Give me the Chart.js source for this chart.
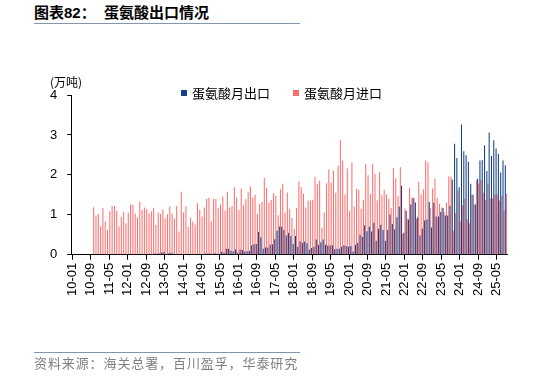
<!DOCTYPE html>
<html>
<head>
<meta charset="utf-8">
<script src="https://cdn.jsdelivr.net/npm/chart.js@4.4.1/dist/chart.umd.min.js"></script>
<style>
  body{margin:0;width:534px;height:377px;background:#fff;position:relative;overflow:hidden;font-family:"Noto Sans CJK SC",sans-serif;}
  #titulo{position:absolute;left:34px;top:3px;width:266px;height:20px;border-bottom:1px solid #8595ad;font-size:15px;font-weight:bold;line-height:20px;color:#000;font-family:"Liberation Sans","Noto Sans CJK SC",sans-serif;white-space:pre;}
  #fuente{position:absolute;left:34px;top:352px;width:266px;border-top:1px solid #8595ad;font-size:13px;line-height:19px;color:#808080;letter-spacing:0.9px;white-space:pre;}
  #caja{position:absolute;left:0;top:0;width:534px;height:377px;}
</style>
</head>
<body>
<div id="titulo">图表82：  蛋氨酸出口情况</div>
<div id="caja"><canvas id="grafica" width="534" height="377"></canvas></div>
<div id="fuente">资料来源：海关总署，百川盈孚，华泰研究</div>
<script>
// DATOS (万吨), mensual 2010-01 .. 2025-09
var anioInicio = 2010;
var totalMeses = 189;
var tickLabels = ['10-01','10-09','11-05','12-01','12-09','13-05','14-01','14-09','15-05','16-01','16-09','17-05',
                  '18-01','18-09','19-05','20-01','20-09','21-05','22-01','22-09','23-05','24-01','24-09','25-05'];
var nombreSeries = ['蛋氨酸月出口','蛋氨酸月进口'];

var exportacion = [
  0,0,0,0,0,0,0,0,0,0,0,0,0,0,0,0,0,0,0,0,0,0,0,0,0,
  0.02,0.01,0.02,0.02,0.01,0.02,0.02,0.01,0.02,0.02,0.02,
  0.03,0.03,0.03,0.06,0.07,0.02,0.04,0.05,0.03,
  0.02,0.01,0.02,0.01,0.02,0.02,0.01,0.02,0.01,0.02,0.02,0.01,0.02,
  0.03,0.03,0.03,0.02,0.04,0.02,0.03,
  0.08,0.05,0.15,0.15,0.10,0.08,0.13,0.05,0.13,0.12,
  0.08,0.09,0.10,0.24,0.27,0.27,0.57,0.43,0.15,0.18,0.18,0.25,0.26,0.39,0.60,0.71,0.70,0.62,0.48,0.55,
  0.47,0.27,0.47,0.20,0.34,0.30,0.33,0.29,0.13,0.17,0.20,0.38,0.25,0.31,0.38,0.25,0.23,0.23,
  0.24,0.14,0.15,0.15,0.20,0.24,0.22,0.20,0.22,0.08,0.25,0.30,0.50,0.45,0.74,0.59,0.70,0.58,0.80,0.35,
  0.65,0.75,0.62,0.35,0.62,1.01,0.77,0.64,0.94,1.21,1.73,0.55,1.10,0.88,1.26,1.43,1.31,0.94,
  0.48,0.66,0.86,0.88,1.32,0.68,1.30,0.96,0.96,1.07,1.17,0.98,0.98,1.23,1.88,2.78,2.42,1.69,3.26,2.59,
  2.49,2.33,1.78,1.50,1.26,1.90,2.36,2.37,2.74,2.10,3.06,2.47,2.87,2.66,2.52,2.06,2.36,2.24
];

var importacion = [
  0,0,0,0,0,0,0,0,0,
  1.19,0.98,1.02,0.71,1.17,0.83,0.62,1.09,1.22,1.22,1.10,0.71,0.95,1.07,0.79,1.05,1.26,1.25,1.03,0.93,
  1.33,1.12,1.18,1.14,1.03,1.09,1.17,0.75,
  1.06,1.02,1.13,0.91,1.01,1.21,1.03,0.91,1.22,0.58,1.58,1.06,1.21,0.70,0.93,0.83,0.76,1.29,1.12,0.96,
  1.18,1.40,1.43,0.84,1.40,1.40,1.17,1.26,1.46,1.10,1.58,1.18,1.22,1.69,1.43,1.12,1.66,1.24,
  1.39,1.58,1.71,1.43,1.50,1.02,1.28,1.32,1.92,1.67,1.30,1.38,1.54,1.48,0.99,1.64,1.78,1.06,1.56,1.15,
  0.92,0.65,1.17,1.84,1.69,1.53,1.18,1.36,1.36,1.38,1.95,1.78,1.85,0.68,1.06,1.79,2.14,1.81,
  2.11,1.55,2.23,2.87,2.36,1.51,2.16,1.09,2.31,1.20,1.65,1.63,1.15,1.38,2.27,1.99,1.52,2.27,2.02,1.36,
  2.07,1.49,1.63,1.51,1.40,1.17,2.17,1.91,1.47,2.19,0.52,1.16,0.90,1.68,1.43,1.40,0.90,1.83,
  1.51,1.64,2.36,2.31,1.17,1.66,1.90,1.43,1.28,1.18,1.06,1.31,1.96,1.95,0.60,1.04,1.61,0.83,1.24,1.41,
  0.88,0.79,1.50,1.26,1.88,1.78,1.88,1.55,1.37,1.78,1.41,1.41,1.51,1.51,1.36,1.48,1.11,1.53
];

var colorExp = '#123f85';
var colorImp = '#ff6e6e';

// categorias YY-MM
var meses = [];
for (var i = 0; i < totalMeses; i++) {
  var a = anioInicio + Math.floor(i / 12);
  var m = (i % 12) + 1;
  meses.push(String(a).slice(2) + '-' + (m < 10 ? '0' + m : m));
}

// leyenda y unidad dibujadas a mano
var leyendaPlugin = {
  id: 'leyendaManual',
  afterDraw: function(chart) {
    var ctx = chart.ctx;
    ctx.save();
    ctx.textBaseline = 'middle';
    ctx.fillStyle = '#000';
    ctx.font = '12px "Noto Sans CJK SC"';
    ctx.fillText('(万吨)', 50, 82);
    ctx.font = '13px "Noto Sans CJK SC"';
    var xs = [181, 293];
    var cols = [colorExp, colorImp];
    for (var k = 0; k < 2; k++) {
      ctx.fillStyle = cols[k];
      ctx.fillRect(xs[k], 90, 6, 6);
      ctx.fillStyle = '#000';
      ctx.fillText(nombreSeries[k], xs[k] + 11, 93);
    }
    ctx.restore();
  }
};

function grafica_metionina(grafica) {
  var chart = new Chart(grafica, {
    type: 'bar',
    data: {
      labels: meses,
      datasets: [{
        label: nombreSeries[0],
        data: exportacion,
        backgroundColor: colorExp,
        categoryPercentage: 0.95,
        barPercentage: 0.95
      }, {
        label: nombreSeries[1],
        data: importacion,
        backgroundColor: colorImp,
        categoryPercentage: 0.95,
        barPercentage: 0.95
      }]
    },
    options: {
      responsive: false,
      animation: false,
      devicePixelRatio: 1,
      layout: { padding: { left: 40, right: 27, top: 95, bottom: 78 } },
      plugins: {
        legend: { display: false },
        tooltip: { enabled: false }
      },
      scales: {
        x: {
          offset: true,
          grid: {
            drawOnChartArea: false,
            offset: false,
            tickLength: 5,
            color: function(c) { return (c.index % 8 === 0) ? '#000' : 'rgba(0,0,0,0)'; }
          },
          border: { color: '#000' },
          ticks: {
            autoSkip: false,
            maxRotation: 90,
            minRotation: 90,
            padding: 3,
            color: '#000',
            font: { size: 13, family: 'Liberation Sans' },
            callback: function(v, i) {
              var l = this.getLabelForValue(v);
              return tickLabels.indexOf(l) >= 0 ? l : '';
            }
          }
        },
        y: {
          min: 0,
          max: 4,
          grid: { drawOnChartArea: false, tickLength: 4, color: '#000' },
          border: { color: '#000' },
          ticks: {
            stepSize: 1,
            padding: 10,
            color: '#000',
            font: { size: 13, family: 'Liberation Sans' }
          }
        }
      }
    },
    plugins: [leyendaPlugin]
  });
  return chart;
}

grafica_metionina(document.getElementById('grafica'));
</script>
</body>
</html>
